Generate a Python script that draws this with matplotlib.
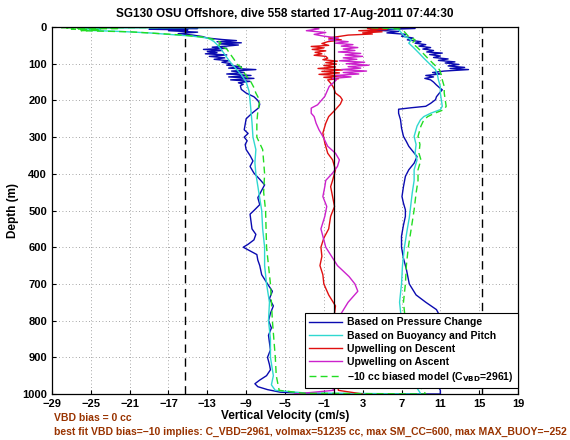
"""
Seaglider dive 558 - vertical velocity vs depth
"""

import numpy as np
import matplotlib
matplotlib.use("Agg")
import matplotlib.pyplot as plt

plt.rcParams['font.family'] = ['Liberation Sans', 'DejaVu Sans']
plt.rcParams['font.weight'] = 'bold'

# --- DATA --- #
# Based on pressure change (blue): descent then ascent
blue_dn_depth = [0, 2, 4, 6, 8, 10, 14, 18, 22, 26, 30, 34, 37, 40, 43, 46, 49, 52, 55, 58,
                 61, 64, 67, 70, 73, 76, 80, 84, 88, 92, 96, 100, 104, 108, 112, 116, 120, 124,
                 128, 132, 136, 140, 144, 148, 152, 156, 160, 170, 180, 190, 200, 210, 220, 235,
                 250, 265, 280, 290, 300, 310, 320, 334, 350, 365, 380, 398, 415, 430, 445, 465,
                 484, 500, 510, 530, 550, 565, 580, 592, 600, 610, 620, 635, 650, 675, 700, 720,
                 740, 760, 780, 800, 820, 840, 860, 880, 900, 920, 934, 950, 962, 972, 980, 988,
                 995, 999]
blue_dn_vel = [-0.5, -18, -14, -19, -15, -17, -14, -16, -14.5, -13.5, -13, -11.5, -10, -12, -9.5,
               -11.8, -9.8, -11, -12.5, -11, -13.4, -11.5, -13, -12, -13.2, -11, -12.8, -11.2,
               -12.3, -10.8, -11.5, -10.5, -11, -9.5, -10.8, -8, -10.5, -9.2, -11, -8.5, -10.8,
               -8.2, -10.6, -8.6, -9.8, -9.3, -9.6, -9.5, -9.0, -8.2, -7.8, -7.6, -7.7, -8.4,
               -9.0, -9.1, -9.2, -8.8, -9.2, -8.9, -9.1, -9.0, -8.6, -8.3, -8.6, -8.2, -7.6, -7.1,
               -7.4, -7.8, -7.6, -8.2, -8.6, -8.5, -8.4, -8.0, -8.2, -8.8, -9.3, -8.6, -7.9, -7.8,
               -7.6, -7.4, -6.8, -6.3, -6.6, -6.2, -6.5, -6.7, -6.4, -6.7, -6.6, -6.5, -6.8, -6.6,
               -6.5, -6.9, -7.6, -8.1, -7.8, -6.8, -5.5, -2.0]
blue_up_depth = [0, 4, 8, 12, 16, 20, 25, 30, 35, 40, 44, 48, 52, 56, 60, 64, 68, 71, 75, 79,
                 83, 87, 91, 95, 98, 102, 106, 110, 113, 116, 120, 124, 128, 132, 136, 140, 144,
                 150, 158, 165, 171, 180, 190, 198, 208, 216, 220, 224, 235, 253, 275, 298, 312,
                 325, 340, 353, 371, 389, 407, 435, 462, 480, 498, 516, 540, 570, 600, 630, 660,
                 700, 730, 750, 770, 790, 810, 830, 850, 870, 890, 910, 930, 950, 970, 990, 1000]
blue_up_vel = [4.0, 8.4, 3.8, 6.7, 5.5, 7.5, 7.0, 8.2, 7.6, 9.0, 8.4, 9.5, 8.8, 10.0, 9.2, 10.3,
               9.6, 11.2, 9.9, 11.0, 10.3, 11.8, 10.8, 12.5, 11.5, 12.9, 11.8, 13.5, 12.0, 13.9,
               11.4, 10.2, 11.0, 9.5, 10.3, 9.4, 10.0, 10.3, 10.6, 10.9, 11.2, 10.9, 10.6, 10.5,
               10.0, 9.5, 8.0, 6.7, 6.7, 6.9, 7.0, 7.2, 7.5, 7.75, 8.2, 8.6, 8.3, 7.75, 7.4, 7.2,
               7.05, 7.2, 7.4, 7.4, 7.2, 7.0, 7.0, 7.2, 7.5, 7.8, 8.5, 9.5, 10.6, 11.0, 10.7,
               10.3, 10.2, 10.5, 10.7, 10.9, 11.0, 10.7, 10.6, 11.0, 11.0]

# Based on buoyancy and pitch (cyan)
cyan_dn_depth = [0, 3, 6, 9, 12, 16, 20, 25, 30, 35, 40, 48, 60, 75, 90, 100, 115, 130, 150,
                 175, 200, 230, 260, 300, 334, 370, 400, 450, 500, 550, 600, 650, 700, 750, 800,
                 850, 900, 950, 975, 990, 997]
cyan_dn_vel = [0, -26, -24, -25.5, -22, -19, -17, -14.5, -13, -12.6, -12.3, -12.0, -11.6, -11.2,
               -10.8, -10.5, -10.0, -9.5, -9.0, -8.7, -8.6, -8.5, -8.4, -8.3, -8.0, -8.1, -8.0,
               -7.7, -7.4, -7.3, -7.1, -7.1, -6.9, -6.6, -6.7, -6.5, -6.5, -6.2, -6.4, -6.0, -3.0]
cyan_up_depth = [0, 5, 10, 16, 25, 35, 44, 55, 71, 85, 98, 116, 130, 144, 162, 180, 198, 216,
                 225, 235, 244, 253, 270, 298, 320, 344, 362, 389, 418, 453, 498, 520, 550, 600,
                 650, 700, 750, 800, 850, 900, 950, 980, 1000]
cyan_up_vel = [3.0, 6.5, 6.8, 7.0, 7.3, 8.0, 7.75, 8.2, 8.8, 9.3, 9.8, 10.5, 10.7, 10.8, 11.0,
               11.0, 11.1, 11.2, 11.0, 10.0, 9.3, 8.95, 8.6, 8.3, 8.5, 8.4, 8.6, 8.3, 8.3, 8.1,
               7.9, 7.8, 7.6, 7.3, 7.1, 7.0, 6.8, 7.0, 7.3, 7.6, 8.0, 8.5, 9.0]

# Upwelling on descent (red)
red_depth = [0, 1, 4, 7, 10, 13, 16, 19, 22, 26, 30, 35, 40, 45, 50, 53, 57, 61, 65, 69, 73,
             77, 80, 85, 89, 93, 97, 101, 105, 109, 113, 117, 121, 125, 129, 133, 137, 141, 144,
             153, 165, 180, 190, 198, 210, 225, 244, 262, 289, 316, 344, 362, 389, 418, 435,
             462, 489, 516, 550, 575, 600, 625, 650, 675, 700, 730, 760, 800, 850, 900, 950,
             990, 1000]
red_vel = [19, 6, 3.5, 5.5, 2.6, 5.0, 3.0, 4.0, 1.5, 0.5, -0.5, 0.8, -0.6, -1.2, -0.5, -2.3,
           -1.0, -2.2, -0.8, -1.9, -1.2, -2.0, -0.8, -0.6, -1.1, 0.4, -0.8, 0.3, -1.0, 0.2, -1.6,
           0.9, -1.2, 0.6, -1.5, 0.8, -1.0, 0.5, -0.6, -0.3, 0.0, 0.2, 0.7, 0.9, 0.7, 0.2, -0.5,
           -0.8, -1.1, -0.9, -0.6, -0.1, 0.2, -0.1, -0.3, -0.1, 0.1, -0.3, -0.5, -1.0, -1.3,
           -1.2, -1.4, -1.1, -1.0, -0.5, 0.2, 0.0, -0.3, 0.0, 0.3, 0.5, 3.0]

# Upwelling on ascent (magenta)
mag_depth = [0, 5, 10, 15, 20, 25, 30, 35, 40, 44, 48, 52, 56, 60, 64, 68, 72, 76, 80, 84, 88,
             92, 96, 100, 104, 108, 112, 116, 120, 124, 128, 132, 136, 140, 144, 162, 189, 212,
             221, 235, 244, 262, 280, 298, 325, 344, 362, 380, 398, 418, 435, 462, 489, 516, 550,
             600, 650, 680, 700, 720, 750, 780, 800, 850, 900, 950, 990, 1000]
mag_vel = [-2.5, -1.5, -2.8, -0.8, -2.0, -1.0, 0.5, -0.5, 1.5, 0.2, 2.0, 0.8, 2.5, 1.0, 2.2, 0.5,
           2.8, 1.2, 3.0, 1.0, 2.4, 0.6, 3.2, 1.3, 3.65, 1.5, 2.8, 0.8, 3.4, 1.0, 2.6, 0.2, 1.8,
           -0.1, 0.3, -0.45, -0.9, -1.65, -2.3, -2.3, -2.0, -1.8, -1.5, -1.1, -0.6, 0.2, 0.6, 0.4,
           -0.1, -0.8, -0.9, -1.1, -0.7, -0.9, -1.3, -0.8, 0.4, 1.6, 2.2, 2.5, 1.5, 0.8, 0.3, 0.1,
           -0.3, -0.5, 0.0, -4.0]

# -10 cc biased model (green dashed)
green_dn_depth = [0, 2, 4, 6, 8, 10, 13, 17, 22, 28, 35, 42, 50, 60, 75, 90, 100, 110, 125, 140,
                  150, 165, 180, 200, 230, 260, 300, 334, 400, 450, 500, 600, 700, 800, 900, 950,
                  990, 998]
green_dn_vel = [-1, -28, -22, -27, -24, -26, -21, -18.5, -15.5, -13.2, -12.2, -11.6, -11.8, -11.0,
                -10.6, -10.2, -10.0, -9.5, -9.2, -8.8, -8.5, -8.2, -8.0, -7.6, -7.8, -7.9, -7.9,
                -7.3, -7.1, -7.2, -7.0, -6.9, -6.5, -6.3, -6.0, -5.9, -5.6, -3.0]
green_up_depth = [0, 5, 10, 16, 25, 35, 44, 55, 71, 85, 98, 116, 130, 144, 162, 180, 198, 216,
                  225, 235, 244, 253, 270, 298, 320, 344, 362, 389, 418, 453, 498, 550, 600, 650,
                  700, 750, 800, 850, 900, 950, 980, 1000]
green_up_vel = [2.0, 6.8, 7.2, 7.4, 7.7, 8.4, 8.1, 8.6, 9.2, 9.7, 10.2, 10.9, 11.1, 11.2, 11.4,
                11.4, 11.5, 11.6, 11.4, 10.4, 9.7, 9.3, 9.0, 8.7, 8.9, 8.8, 9.0, 8.7, 8.7, 8.5,
                8.3, 8.0, 7.7, 7.5, 7.4, 7.2, 7.4, 7.7, 8.0, 8.4, 8.9, 9.5]

x_ticks = [-29, -25, -21, -17, -13, -9, -5, -1, 3, 7, 11, 15, 19]
y_ticks = [0, 100, 200, 300, 400, 500, 600, 700, 800, 900, 1000]
limit_lines = [-15.3, 15.3]

title = "SG130 OSU Offshore, dive 558 started 17-Aug-2011 07:44:30"
note1 = "VBD bias = 0 cc"
note2 = ("best fit VBD bias=\u221210 implies: C_VBD=2961, volmax=51235 cc, "
         "max SM_CC=600, max MAX_BUOY=\u2212252")


def whole_dive(dn_d, dn_v, up_d, up_v):
    # descent down to the bottom, then the ascent back to the surface
    d = list(dn_d) + list(up_d[::-1])
    v = list(dn_v) + list(up_v[::-1])
    return v, d


# --- PLOT --- #
fig = plt.figure(figsize=(5.7, 4.4), dpi=100)
ax = fig.add_axes([0.0912, 0.1045, 0.8176, 0.8341])

lw = 1.0
bv, bd = whole_dive(blue_dn_depth, blue_dn_vel, blue_up_depth, blue_up_vel)
cv, cd = whole_dive(cyan_dn_depth, cyan_dn_vel, cyan_up_depth, cyan_up_vel)
gv, gd = whole_dive(green_dn_depth, green_dn_vel, green_up_depth, green_up_vel)

ax.plot(bv, bd, color='#0a0ab0', lw=lw, label='Based on Pressure Change')
ax.plot(cv, cd, color='#30d8d0', lw=lw, label='Based on Buoyancy and Pitch')
ax.plot(red_vel, red_depth, color='#e01010', lw=lw, label='Upwelling on Descent')
ax.plot(mag_vel, mag_depth, color='#cc22cc', lw=lw, label='Upwelling on Ascent')
ax.plot(gv, gd, color='#22dd22', lw=lw, ls=(0, (5, 3)),
        label='\u221210 cc biased model (C$_{\\mathbf{VBD}}$=2961)')

for xl in limit_lines:
    ax.axvline(xl, color='k', lw=1.0, ls=(0, (6, 4)))
ax.axvline(0, color='k', lw=0.9)

ax.set_xlim(-29, 19)
ax.set_ylim(1000, 0)
ax.set_xticks(x_ticks)
ax.set_yticks(y_ticks)
ax.grid(True, ls=(0, (1, 3)), color='#888888', lw=0.6)
ax.tick_params(direction='in', length=3, labelsize=8, width=0.8)
for s in ax.spines.values():
    s.set_linewidth(0.9)

ax.set_title(title, fontsize=8.5, fontweight='bold', pad=7)
ax.set_xlabel("Vertical Velocity (cm/s)", fontsize=8.5, fontweight='bold', labelpad=1)
ax.set_ylabel("Depth (m)", fontsize=8.5, fontweight='bold', labelpad=2)

leg = ax.legend(loc='lower right', bbox_to_anchor=(1.0, 0.016), borderaxespad=0,
                fontsize=7.5, fancybox=False, edgecolor='k', framealpha=1,
                handlelength=3.2, labelspacing=0.3, borderpad=0.4, handletextpad=0.5)
leg.get_frame().set_linewidth(0.8)

fig.text(54 / 570, 1 - 418 / 440, note1, color='#993300', fontsize=7.5, fontweight='bold',
         va='center')
fig.text(54 / 570, 1 - 432 / 440, note2, color='#993300', fontsize=7.5, fontweight='bold',
         va='center')

fig.savefig("out.png", dpi=100)
